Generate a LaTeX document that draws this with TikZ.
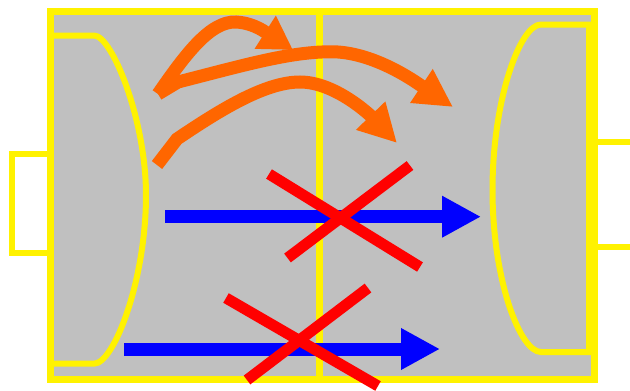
\documentclass[tikz,border=0pt]{standalone}
\usetikzlibrary{arrows.meta}
\definecolor{chamber}{RGB}{192,192,192}
\definecolor{swirlorange}{RGB}{255,102,0}

\begin{document}
\begin{tikzpicture}[
  x=1pt, y=-1pt,
  wall/.style={draw=yellow, line width=6pt},
  swirl/.style={draw=swirlorange, line width=13pt, -{Triangle[length=38pt,width=38pt]}},
  jet/.style={draw=blue, line width=13pt, -{Triangle[length=39pt,width=39pt]}},
  cross/.style={draw=red, line width=11pt},
]
\useasboundingbox (0,0) rectangle (630,391);

% chamber
\path [fill=chamber] (50,11.7) rectangle (594.5,379.7);
\draw [wall] (50,154) -- (11.7,154) -- (11.7,253) -- (50,253);
\draw [wall] (594.5,142) -- (640,142);
\draw [wall] (594.5,247) -- (640,247);
\draw [wall] (50,35.5) -- (94,35.5) .. controls (112,35.5) and (146,120) .. (146,195)
  .. controls (146,280) and (114,363.7) .. (94,363.7) -- (50,363.7);
\draw [wall] (589,24.5) -- (541,24.5) .. controls (520,24.5) and (492.5,100) .. (492.5,190)
  .. controls (492.5,280) and (520,352) .. (541,352) -- (589,352) -- cycle;
\draw [wall, line width=7pt] (319.5,11.7) -- (319.5,379.7);
\draw [wall, line width=7pt] (50,11.7) rectangle (594.5,379.7);

% swirling flow
\draw [swirl, -{Triangle[length=33pt,width=37pt]}] (158,94) .. controls (185,55) and (210,21) .. (236,22)
  .. controls (255,23) and (268,34) .. (293,50);
\draw [swirl] (158,94) -- (178,82) .. controls (245,65) and (295,50) .. (338,52)
  .. controls (380,55) and (420,85) .. (453,107);
\draw [swirl] (157,165) -- (177,139) .. controls (220,110) and (265,82) .. (300,82)
  .. controls (335,82) and (370,115) .. (397,143);

% straight jets
\draw [jet] (165,216.7) -- (481,216.7);
\draw [jet] (124,349) -- (440,349);

% crossed out
\draw [cross] (269,174) -- (420,267);
\draw [cross] (410,165.5) -- (287.5,258);
\draw [cross] (226,298) -- (378,386);
\draw [cross] (368,288) -- (247,380);

\end{tikzpicture}
\end{document}
